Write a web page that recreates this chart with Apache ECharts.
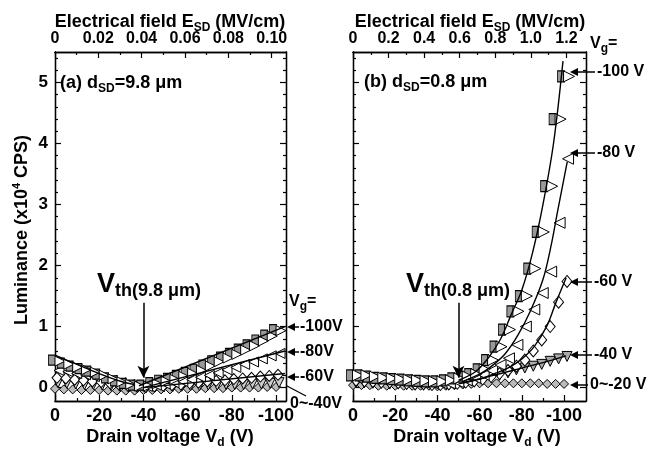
<!DOCTYPE html>
<html><head><meta charset="utf-8">
<script src="https://cdn.jsdelivr.net/npm/echarts@6/dist/echarts.min.js"></script>
<style>html,body{margin:0;padding:0;background:#fff}#c{width:662px;height:449px}</style>
</head><body><div id="c"></div>
<script>
// ---------- data ----------
const vdL = [0,-4,-8,-12,-16,-20,-24,-28,-32,-36,-40,-44,-48,-52,-56,-60,-64,-68,-72,-76,-80,-84,-88,-92,-96,-100];
const vdR = [0,-4,-8,-12,-16,-20,-24,-28,-32,-36,-40,-44,-48,-52,-56,-60,-64,-68,-72,-76,-80,-84,-88,-92,-96,-100];

// panel (a) d_SD = 9.8 um, luminance x1e4 CPS
const L100 = [0.45,0.40,0.35,0.31,0.27,0.22,0.16,0.11,0.07,0.04,0.04,0.08,0.12,0.15,0.20,0.25,0.30,0.37,0.44,0.50,0.56,0.63,0.70,0.78,0.86,0.95];
const L80  = [0.28,0.26,0.23,0.21,0.18,0.15,0.12,0.08,0.05,0.03,0.02,0.04,0.06,0.08,0.10,0.13,0.17,0.20,0.24,0.29,0.33,0.38,0.42,0.47,0.52,0.56];
const L60  = [0.16,0.15,0.13,0.12,0.10,0.09,0.07,0.05,0.03,0.02,0.01,0.02,0.03,0.04,0.05,0.07,0.08,0.10,0.11,0.12,0.14,0.15,0.16,0.18,0.19,0.21];
const L40  = [0.08,0.07,0.06,0.05,0.05,0.04,0.03,0.02,0.01,0.00,0.00,0.01,0.01,0.02,0.02,0.03,0.03,0.04,0.04,0.05,0.05,0.05,0.06,0.06,0.07,0.08];
const L0   = [-0.02,-0.03,-0.03,-0.04,-0.04,-0.04,-0.05,-0.05,-0.05,-0.05,-0.04,-0.04,-0.03,-0.03,-0.02,-0.02,-0.02,-0.01,-0.01,-0.01,0.00,0.00,0.00,0.00,0.01,0.01];

// panel (b) d_SD = 0.8 um
const R100 = [0.20,0.20,0.18,0.16,0.15,0.14,0.13,0.12,0.11,0.10,0.10,0.12,0.15,0.18,0.22,0.30,0.45,0.67,0.95,1.25,1.50,1.95,2.55,3.30,4.40,5.10];
const R80  = [0.16,0.15,0.14,0.13,0.12,0.11,0.10,0.09,0.08,0.07,0.07,0.07,0.09,0.12,0.16,0.21,0.28,0.37,0.48,0.70,1.00,1.28,1.55,1.90,2.70,3.75];
const R60  = [0.12,0.11,0.10,0.09,0.09,0.08,0.07,0.06,0.06,0.05,0.05,0.06,0.07,0.09,0.11,0.14,0.18,0.23,0.28,0.35,0.45,0.60,0.78,1.00,1.40,1.74];
const R40  = [0.08,0.08,0.07,0.07,0.06,0.06,0.05,0.05,0.05,0.05,0.05,0.06,0.07,0.09,0.11,0.14,0.17,0.20,0.24,0.29,0.32,0.35,0.38,0.43,0.47,0.51];
const R0   = [0.04,0.04,0.04,0.03,0.03,0.03,0.03,0.03,0.03,0.03,0.02,0.03,0.04,0.05,0.06,0.07,0.07,0.07,0.07,0.07,0.07,0.07,0.07,0.06,0.06,0.06];

// fitted curves [Vd, luminance]
const fitL100a = [[0,0.53],[-10,0.38],[-20,0.23],[-30,0.10],[-36,0.05]];
const fitL100b = [[-38,0.03],[-104,1.00]];
const fitL80   = [[-40,0.00],[-104,0.60]];
const fitL60   = [[-40,0.00],[-104,0.23]];
const fitR100  = [[-50,0.12],[-58,0.26],[-64,0.48],[-70,0.80],[-75,1.20],[-80,1.60],[-85,2.20],[-90,3.00],[-95,4.00],[-99.5,5.35]];
const fitR80   = [[-52,0.10],[-60,0.22],[-66,0.36],[-72,0.55],[-78,0.85],[-84,1.25],[-90,1.77],[-94,2.35],[-97,2.90],[-101.5,3.70]];
const fitR60   = [[-52,0.08],[-60,0.14],[-68,0.24],[-74,0.33],[-80,0.47],[-86,0.68],[-92,1.02],[-96,1.38],[-101,1.80]];
const fitR40   = [[-50,0.06],[-60,0.14],[-70,0.23],[-80,0.32],[-90,0.41],[-101,0.52]];

// ticks
const vdTickLabels = [0,-20,-40,-60,-80,-100];
const vdMinor = [-10,-30,-50,-70,-90];
const eTicksL = [0,0.02,0.04,0.06,0.08,0.10];
const eMinorL = [0.01,0.03,0.05,0.07,0.09];
const eTicksR = [0,0.2,0.4,0.6,0.8,1.0,1.2];
const eMinorR = [0.1,0.3,0.5,0.7,0.9,1.1];
const yTicks = [0,1,2,3,4,5];
const yMinor = [0.2,0.4,0.6,0.8,1.2,1.4,1.6,1.8,2.2,2.4,2.6,2.8,3.2,3.4,3.6,3.8,4.2,4.4,4.6,4.8,5.2,5.4];

// ---------- chart ----------
const FONT = '"Liberation Sans", Arial, sans-serif';
const chart = echarts.init(document.getElementById('c'));

function ax(gridIndex, position, min, max, inverse, ticks, tickLen, labels, fmt, fontSize, margin) {
  return {
    type: 'value', gridIndex, position, min, max, inverse,
    splitLine: {show: false},
    axisLine: {show: true, onZero: false, lineStyle: {color: '#000', width: 1.3}},
    axisTick: {show: true, inside: true, length: tickLen, customValues: ticks, lineStyle: {color: '#000', width: 1.2}},
    axisLabel: labels ? {show: true, customValues: labels, formatter: fmt, color: '#000',
      fontFamily: FONT, fontWeight: 'bold', fontSize, margin} : {show: false},
    minorTick: {show: false}, minorSplitLine: {show: false}
  };
}
const fmtV = v => String(Math.round(v));
const fmtEL = v => v === 0 ? '0' : v.toFixed(2);
const fmtER = v => v === 0 ? '0' : v.toFixed(1);
const fmtY = v => String(Math.round(v));

const grids = [
  {left: 55, top: 52, width: 231, height: 349},
  {left: 353, top: 52, width: 233, height: 349}
];
const xMin = [-104.5, -110.4];
const eMax = [0.1066, 1.31];
const xAxes = [], yAxes = [];
for (let g = 0; g < 2; g++) {
  xAxes.push(ax(g, 'bottom', xMin[g], 0, true, vdTickLabels, 6, vdTickLabels, fmtV, 18, 6));
  xAxes.push(ax(g, 'bottom', xMin[g], 0, true, vdMinor, 3, null));
  xAxes.push(ax(g, 'top', 0, eMax[g], false, g ? eTicksR : eTicksL, 6, g ? eTicksR : eTicksL, g ? fmtER : fmtEL, 16, 5));
  xAxes.push(ax(g, 'top', 0, eMax[g], false, g ? eMinorR : eMinorL, 3, null));
  yAxes.push(ax(g, 'left', -0.22, 5.5, false, yTicks, 6, g ? null : yTicks, fmtY, 17, 7));
  yAxes.push(ax(g, 'left', -0.22, 5.5, false, yMinor, 3, null));
  yAxes.push(ax(g, 'right', -0.22, 5.5, false, yTicks, 6, null));
  yAxes.push(ax(g, 'right', -0.22, 5.5, false, yMinor, 3, null));
}

function pts(xs, ys) { return xs.map((x, i) => [x, ys[i]]); }
function sc(g, xs, ys, symbol, size, fill, rotate, offset) {
  return {type: 'scatter', xAxisIndex: 4 * g, yAxisIndex: 4 * g, data: pts(xs, ys),
    symbol, symbolSize: size, symbolRotate: rotate || 0, symbolOffset: offset || [0, 0],
    itemStyle: {color: fill, borderColor: '#000', borderWidth: 1, opacity: 1},
    silent: true, z: 2};
}
function ln(g, data) {
  return {type: 'line', xAxisIndex: 4 * g, yAxisIndex: 4 * g, data, smooth: 0.35, showSymbol: false,
    symbol: 'none', lineStyle: {color: '#000', width: 1.4}, silent: true, z: 3};
}
function vthArrow(g, x) {
  return {type: 'line', xAxisIndex: 4 * g, yAxisIndex: 4 * g, data: [], silent: true,
    markLine: {silent: true, symbol: ['none', 'arrow'], symbolSize: [9, 12], animation: false,
      lineStyle: {color: '#000', width: 1.5, type: 'solid'}, label: {show: false},
      data: [[{coord: [x, 1.39]}, {coord: [x, 0.16]}]]}};
}

const series = [
  // panel (a)
  sc(0, vdL, L0, 'diamond', [9, 9], '#bbb'),
  sc(0, vdL, L40, 'triangle', 10, '#ccc', 180, [3, 0]),
  sc(0, vdL, L60, 'diamond', [10, 11], '#fff', 0, [2, 0]),
  sc(0, vdL, L80, 'triangle', 10, '#fff', 90, [4, 0]),
  sc(0, vdL, L100, 'rect', [7, 10], '#999', 0, [-3, 0]),
  sc(0, vdL, L100, 'triangle', 10, '#fff', -90, [5, 1]),
  ln(0, fitL100a), ln(0, fitL100b), ln(0, fitL80), ln(0, fitL60),
  vthArrow(0, -40),
  // panel (b)
  sc(1, vdR, R0, 'diamond', [9, 9], '#bbb'),
  sc(1, vdR, R40, 'triangle', 10, '#aaa', 180, [3, 0]),
  sc(1, vdR, R60, 'diamond', [10, 12], '#fff', 0, [3, 0]),
  sc(1, vdR, R80, 'triangle', 11, '#fff', 90, [4, 0]),
  sc(1, vdR, R100, 'rect', [7, 11], '#999', 0, [-3, 0]),
  sc(1, vdR, R100, 'triangle', 11, '#fff', -90, [5, 0]),
  ln(1, fitR100), ln(1, fitR80), ln(1, fitR60), ln(1, fitR40),
  vthArrow(1, -50)
];

// ---------- text annotations ----------
const B = {fontFamily: FONT, fontWeight: 'bold', fill: '#000'};
function rt(x, y, text, rich, align, extra) {
  return Object.assign({type: 'text', x, y, z: 10, silent: true,
    style: Object.assign({}, B, {text, rich, align: align || 'left', textAlign: align || 'left',
      verticalAlign: 'middle', textVerticalAlign: 'middle', fontSize: 16})}, extra || {});
}
const R18 = {a: Object.assign({}, B, {fontSize: 18}), s: Object.assign({}, B, {fontSize: 12, padding: [11, 0, 0, 0]}),
             p: Object.assign({}, B, {fontSize: 11, padding: [0, 0, 11, 0]})};
const R16 = {a: Object.assign({}, B, {fontSize: 16}), s: Object.assign({}, B, {fontSize: 12, padding: [10, 0, 0, 0]})};
const RV = {V: Object.assign({}, B, {fontSize: 27, padding: [0, 0, 0, 0]}),
            t: Object.assign({}, B, {fontSize: 18, padding: [12, 0, 0, 0]})};
function arrow(x1, x2, y) {
  return [
    {type: 'line', silent: true, z: 10, shape: {x1, y1: y, x2: x2 + 6, y2: y}, style: {stroke: '#000', lineWidth: 1.5}},
    {type: 'polygon', silent: true, z: 10, shape: {points: [[x2, y], [x2 + 8, y - 4], [x2 + 8, y + 4]]}, style: {fill: '#000'}}
  ];
}

const graphic = [
  rt(170, 22, '{a|Electrical field E}{s|SD}{a| (MV/cm)}', R18, 'center'),
  rt(470, 22, '{a|Electrical field E}{s|SD}{a| (MV/cm)}', R18, 'center'),
  rt(170, 437, '{a|Drain voltage V}{s|d}{a| (V)}', R18, 'center'),
  rt(477, 437, '{a|Drain voltage V}{s|d}{a| (V)}', R18, 'center'),
  rt(22, 230, '{a|Luminance (x10}{p|4}{a| CPS)}', R18, 'center', {rotation: Math.PI / 2}),
  rt(60, 83, '{a|(a) d}{s|SD}{a|=9.8 \u03bcm}', R18, 'left'),
  rt(364, 82, '{a|(b) d}{s|SD}{a|=0.8 \u03bcm}', R18, 'left'),
  rt(97, 285, '{V|V}{t|th(9.8 \u03bcm)}', RV, 'left'),
  rt(406, 285, '{V|V}{t|th(0.8 \u03bcm)}', RV, 'left'),
  rt(289, 302, '{a|V}{s|g}{a|=}', R16, 'left'),
  rt(300, 327, '-100V', null, 'left'),
  rt(300, 352, '-80V', null, 'left'),
  rt(300, 377, '-60V', null, 'left'),
  rt(290, 404, '0~-40V', null, 'left'),
  rt(590, 44, '{a|V}{s|g}{a|=}', R16, 'left'),
  rt(597, 72, '-100 V', null, 'left'),
  rt(597, 153, '-80 V', null, 'left'),
  rt(594, 282, '-60 V', null, 'left'),
  rt(594, 355, '-40 V', null, 'left'),
  rt(590, 385, '0~-20 V', null, 'left'),
  ...arrow(299, 287, 327), ...arrow(299, 287, 352), ...arrow(299, 287, 377),
  {type: 'line', silent: true, z: 10, shape: {x1: 287, y1: 386, x2: 306, y2: 396}, style: {stroke: '#000', lineWidth: 1.3}},
  ...arrow(595, 570, 72), ...arrow(595, 570, 153), ...arrow(592, 570, 282),
  ...arrow(592, 570, 355), ...arrow(588, 570, 385)
];

chart.setOption({
  animation: false,
  backgroundColor: '#fff',
  grid: grids,
  xAxis: xAxes,
  yAxis: yAxes,
  series,
  graphic
});
</script></body></html>
